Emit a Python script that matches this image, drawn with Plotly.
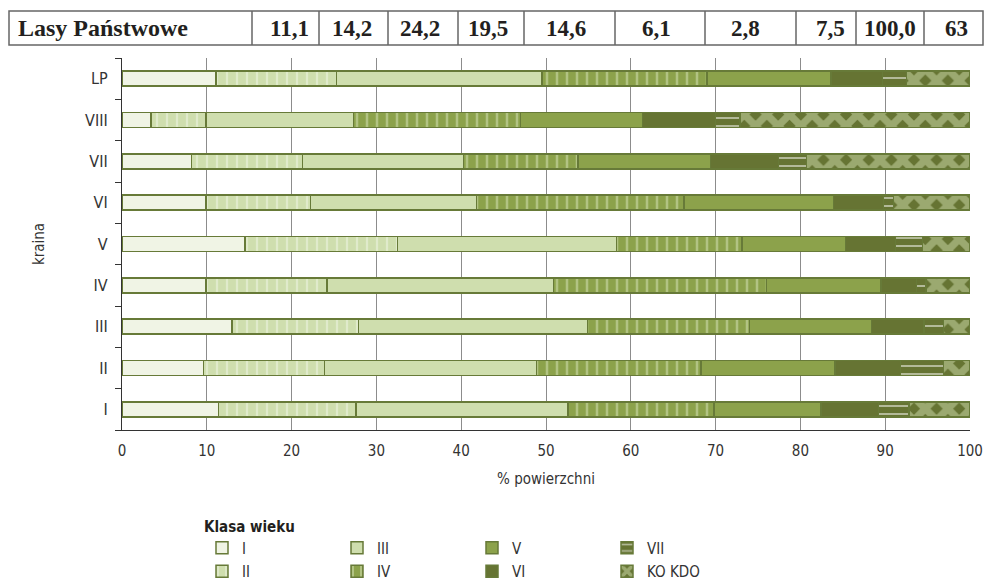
import plotly.graph_objects as go

# ---------------- data ----------------
regions = ["I", "II", "III", "IV", "V", "VI", "VII", "VIII", "LP"]
class_names = ["I", "II", "III", "IV", "V", "VI", "VII", "KO KDO"]

cls_I = [11.4, 9.6, 13.0, 9.9, 14.5, 9.9, 8.2, 3.4, 11.1]
cls_II = [16.2, 14.3, 14.9, 14.3, 18.0, 12.3, 13.1, 6.5, 14.2]
cls_III = [25.0, 25.0, 27.0, 26.7, 25.8, 19.6, 19.0, 17.4, 24.2]
cls_IV = [17.2, 19.4, 19.1, 25.1, 14.8, 24.5, 13.5, 19.7, 19.5]
cls_V = [12.6, 15.8, 14.4, 13.5, 12.2, 17.6, 15.6, 14.4, 14.6]
cls_VI = [6.8, 7.7, 6.2, 4.2, 5.9, 5.9, 8.0, 8.6, 6.1]
cls_VII = [3.6, 5.1, 2.3, 1.1, 3.2, 1.2, 3.3, 2.9, 2.8]
cls_KO = [7.2, 3.1, 3.1, 5.2, 5.6, 9.0, 19.3, 27.1, 7.5]

header_label = "Lasy Państwowe"
header_values = ["11,1", "14,2", "24,2", "19,5", "14,6", "6,1", "2,8", "7,5", "100,0", "63"]

x_ticks = [0, 10, 20, 30, 40, 50, 60, 70, 80, 90, 100]

# ---------------- style ----------------
FONT = "Liberation Sans Narrow, DejaVu Sans Condensed, Arial Narrow, sans-serif"
SERIF = "Liberation Serif, DejaVu Serif, serif"
OUTLINE = "#677A38"
C_I = "#F0F4E5"
C_LIGHT = "#CFDEAE"
C_MID = "#8CA24B"
C_DARK = "#667433"

styles = [
    dict(color=C_I, pattern=dict(shape="")),
    dict(color=C_LIGHT, pattern=dict(shape="|", fgcolor="#F2F6E8", size=10, solidity=0.22)),
    dict(color=C_LIGHT, pattern=dict(shape="")),
    dict(color=C_MID, pattern=dict(shape="|", fgcolor="#D8E4BC", size=10, solidity=0.25)),
    dict(color=C_MID, pattern=dict(shape="")),
    dict(color=C_DARK, pattern=dict(shape="")),
    dict(color=C_DARK, pattern=dict(shape="-", fgcolor="#FFFFFF", size=8, solidity=0.25)),
    dict(color=C_DARK, pattern=dict(shape="x", fgcolor=C_LIGHT, size=16, solidity=0.7)),
]
legend_of = ["legend", "legend2", "legend", "legend2", "legend", "legend2", "legend", "legend2"]
series = [cls_I, cls_II, cls_III, cls_IV, cls_V, cls_VI, cls_VII, cls_KO]

fig = go.Figure()
for name, vals, st, lg in zip(class_names, series, styles, legend_of):
    fig.add_trace(go.Bar(
        y=regions, x=vals, name=name, orientation="h",
        marker=dict(color=st["color"], pattern=st["pattern"],
                    line=dict(color=OUTLINE, width=1.5)),
        legend=lg, hoverinfo="x+y+name",
    ))

# ---------------- layout geometry ----------------
W, H = 986, 581
PL, PR, PT, PB = 122, 970, 58, 430          # plot area in page pixels
ML, MR, MT, MB = PL, W - PR, PT, H - PB
PW, PH = W - ML - MR, H - MT - MB


def px(xp):
    return (xp - ML) / PW


def py(yp):
    return (H - MB - yp) / PH


shapes = []
# header table
shapes.append(dict(type="rect", xref="paper", yref="paper",
                   x0=px(9), x1=px(983), y0=py(45), y1=py(11),
                   line=dict(color="#666666", width=1.5), fillcolor="rgba(0,0,0,0)"))
dividers = [252, 319, 388, 458, 524, 615, 705, 796, 856, 924]
for d in dividers:
    shapes.append(dict(type="line", xref="paper", yref="paper",
                       x0=px(d), x1=px(d), y0=py(45), y1=py(11),
                       line=dict(color="#666666", width=1.5)))

annotations = [dict(text="<b>" + header_label + "</b>", xref="paper", yref="paper",
                    x=px(16), y=py(28), xanchor="left", yanchor="middle", showarrow=False,
                    font=dict(family=SERIF, size=24, color="#231F20"))]
val_centers = [289, 352, 420, 488, 566, 656, 745, 830, 890, 956]
for v, c in zip(header_values, val_centers):
    annotations.append(dict(text="<b>" + v + "</b>", xref="paper", yref="paper",
                            x=px(c), y=py(28), xanchor="center", yanchor="middle",
                            showarrow=False,
                            font=dict(family=SERIF, size=23, color="#231F20")))

legend_common = dict(orientation="h", xanchor="left", yanchor="top", traceorder="normal",
                     entrywidth=90, entrywidthmode="pixels", itemwidth=30,
                     bgcolor="rgba(0,0,0,0)", font=dict(size=15, color="#333333"),
                     itemclick=False, itemdoubleclick=False, tracegroupgap=0)

fig.update_layout(
    width=W, height=H,
    margin=dict(l=ML, r=MR, t=MT, b=MB, pad=0, autoexpand=False),
    paper_bgcolor="white", plot_bgcolor="white",
    barmode="stack", bargap=0.64,
    font=dict(family=FONT, size=15, color="#333333"),
    showlegend=True,
    shapes=shapes, annotations=annotations,
    xaxis=dict(range=[0, 100], tickvals=x_ticks, showgrid=True, gridcolor="#8C8C8C",
               gridwidth=1, showline=True, linecolor="#333333", linewidth=1.2,
               zeroline=False, ticks="outside", ticklen=0, ticklabelstandoff=7,
               tickfont=dict(size=15, color="#333333"), automargin=False,
               title=dict(text="% powierzchni", font=dict(size=15, color="#333333"), standoff=14),
               fixedrange=True),
    yaxis=dict(categoryorder="array", categoryarray=regions, showgrid=False,
               showline=True, linecolor="#333333", linewidth=1.2,
               ticks="outside", ticklen=6, tickcolor="#333333", tickson="boundaries",
               ticklabelstandoff=10, tickfont=dict(size=16, color="#333333"),
               automargin=False,
               title=dict(text="kraina", font=dict(size=15, color="#333333"), standoff=36),
               fixedrange=True),
    legend=dict(x=px(202), y=py(512),
                title=dict(text="Klasa wieku", side="top",
                           font=dict(size=15, color="#231F20", weight=700)),
                **legend_common),
    legend2=dict(x=px(202), y=py(555), **legend_common),
)

fig.write_html(
    "out.html",
    config={"displayModeBar": False},
    post_script="document.body.style.margin='0';document.body.style.overflow='hidden';",
)
